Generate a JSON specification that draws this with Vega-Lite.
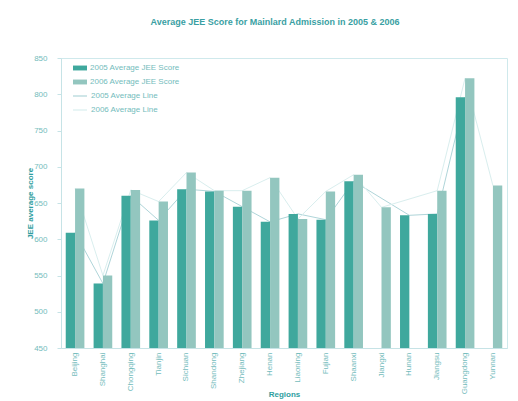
{
  "$schema": "https://vega.github.io/schema/vega-lite/v6.json",
  "width": 446,
  "height": 290,
  "autosize": {"type": "none"},
  "padding": {"left": 61, "top": 58, "right": 11, "bottom": 53},
  "background": "#ffffff",
  "title": {
    "text": "Average JEE Score for Mainlard Admission in 2005 & 2006",
    "fontSize": 9,
    "fontWeight": "bold",
    "color": "#3a9fa3",
    "font": "Liberation Sans",
    "anchor": "middle",
    "dx": -9,
    "offset": 27
  },
  "config": {
    "view": {"stroke": "#cfe9ec", "strokeWidth": 1},
    "font": "Liberation Sans",
    "axis": {
      "labelColor": "#74bcbc",
      "labelFontSize": 8,
      "titleColor": "#2f9ea0",
      "titleFontSize": 8,
      "titleFontWeight": "bold",
      "domainColor": "#c6e3e6",
      "tickColor": "#c6e3e6",
      "grid": false
    },
    "legend": {
      "labelColor": "#74bcbc",
      "labelFontSize": 8,
      "labelFont": "Liberation Sans",
      "padding": 0
    }
  },
  "datasets": {
    "bars": [
      {"region": "Beijing", "series": "2005 Average JEE Score", "score": 609},
      {"region": "Beijing", "series": "2006 Average JEE Score", "score": 670},
      {"region": "Shanghai", "series": "2005 Average JEE Score", "score": 539},
      {"region": "Shanghai", "series": "2006 Average JEE Score", "score": 550},
      {"region": "Chongqing", "series": "2005 Average JEE Score", "score": 660},
      {"region": "Chongqing", "series": "2006 Average JEE Score", "score": 668},
      {"region": "Tianjin", "series": "2005 Average JEE Score", "score": 626},
      {"region": "Tianjin", "series": "2006 Average JEE Score", "score": 652},
      {"region": "Sichuan", "series": "2005 Average JEE Score", "score": 669},
      {"region": "Sichuan", "series": "2006 Average JEE Score", "score": 692},
      {"region": "Shandong", "series": "2005 Average JEE Score", "score": 666},
      {"region": "Shandong", "series": "2006 Average JEE Score", "score": 667},
      {"region": "Zhejiang", "series": "2005 Average JEE Score", "score": 645},
      {"region": "Zhejiang", "series": "2006 Average JEE Score", "score": 667},
      {"region": "Henan", "series": "2005 Average JEE Score", "score": 624},
      {"region": "Henan", "series": "2006 Average JEE Score", "score": 685},
      {"region": "Liaoning", "series": "2005 Average JEE Score", "score": 635},
      {"region": "Liaoning", "series": "2006 Average JEE Score", "score": 628},
      {"region": "Fujian", "series": "2005 Average JEE Score", "score": 627},
      {"region": "Fujian", "series": "2006 Average JEE Score", "score": 666},
      {"region": "Shaanxi", "series": "2005 Average JEE Score", "score": 680},
      {"region": "Shaanxi", "series": "2006 Average JEE Score", "score": 689},
      {"region": "Jiangxi", "series": "2006 Average JEE Score", "score": 644},
      {"region": "Hunan", "series": "2005 Average JEE Score", "score": 633},
      {"region": "Jiangsu", "series": "2005 Average JEE Score", "score": 635},
      {"region": "Jiangsu", "series": "2006 Average JEE Score", "score": 667},
      {"region": "Guangdong", "series": "2005 Average JEE Score", "score": 796},
      {"region": "Guangdong", "series": "2006 Average JEE Score", "score": 822},
      {"region": "Yunnan", "series": "2006 Average JEE Score", "score": 674}
    ],
    "lines": [
      {"region": "Beijing", "series": "2005 Average Line", "score": 609},
      {"region": "Shanghai", "series": "2005 Average Line", "score": 539},
      {"region": "Chongqing", "series": "2005 Average Line", "score": 660},
      {"region": "Tianjin", "series": "2005 Average Line", "score": 626},
      {"region": "Sichuan", "series": "2005 Average Line", "score": 669},
      {"region": "Shandong", "series": "2005 Average Line", "score": 666},
      {"region": "Zhejiang", "series": "2005 Average Line", "score": 645},
      {"region": "Henan", "series": "2005 Average Line", "score": 624},
      {"region": "Liaoning", "series": "2005 Average Line", "score": 635},
      {"region": "Fujian", "series": "2005 Average Line", "score": 627},
      {"region": "Shaanxi", "series": "2005 Average Line", "score": 680},
      {"region": "Hunan", "series": "2005 Average Line", "score": 633},
      {"region": "Jiangsu", "series": "2005 Average Line", "score": 635},
      {"region": "Guangdong", "series": "2005 Average Line", "score": 796},
      {"region": "Beijing", "series": "2006 Average Line", "score": 670},
      {"region": "Shanghai", "series": "2006 Average Line", "score": 550},
      {"region": "Chongqing", "series": "2006 Average Line", "score": 668},
      {"region": "Tianjin", "series": "2006 Average Line", "score": 652},
      {"region": "Sichuan", "series": "2006 Average Line", "score": 692},
      {"region": "Shandong", "series": "2006 Average Line", "score": 667},
      {"region": "Zhejiang", "series": "2006 Average Line", "score": 667},
      {"region": "Henan", "series": "2006 Average Line", "score": 685},
      {"region": "Liaoning", "series": "2006 Average Line", "score": 628},
      {"region": "Fujian", "series": "2006 Average Line", "score": 666},
      {"region": "Shaanxi", "series": "2006 Average Line", "score": 689},
      {"region": "Jiangxi", "series": "2006 Average Line", "score": 644},
      {"region": "Jiangsu", "series": "2006 Average Line", "score": 667},
      {"region": "Guangdong", "series": "2006 Average Line", "score": 822},
      {"region": "Yunnan", "series": "2006 Average Line", "score": 674}
    ]
  },
  "encoding": {
    "x": {
      "field": "region",
      "type": "nominal",
      "sort": ["Beijing", "Shanghai", "Chongqing", "Tianjin", "Sichuan", "Shandong", "Zhejiang", "Henan", "Liaoning", "Fujian", "Shaanxi", "Jiangxi", "Hunan", "Jiangsu", "Guangdong", "Yunnan"],
      "scale": {"paddingInner": 0.33, "paddingOuter": 0.17},
      "axis": {
        "title": "Regions",
        "labelAngle": -90,
        "labelPadding": 4,
        "ticks": false,
        "titleY": 42
      }
    },
    "y": {
      "field": "score",
      "type": "quantitative",
      "scale": {"domain": [450, 850], "zero": false, "nice": false},
      "axis": {
        "title": "JEE average score",
        "values": [450, 500, 550, 600, 650, 700, 750, 800, 850],
        "tickSize": 4,
        "labelPadding": 10,
        "titleX": -27
      }
    }
  },
  "layer": [
    {
      "data": {"name": "lines"},
      "mark": {"type": "line", "strokeWidth": 1},
      "encoding": {
        "stroke": {
          "field": "series",
          "type": "nominal",
          "scale": {"domain": ["2005 Average Line", "2006 Average Line"], "range": ["#afd5d9", "#d9eeee"]},
          "legend": {
            "title": null,
            "orient": "none",
            "legendX": 11,
            "legendY": 30,
            "symbolType": "stroke",
            "symbolSize": 196,
            "symbolStrokeWidth": 1.2,
            "rowPadding": 2,
            "labelOffset": 3
          }
        }
      }
    },
    {
      "data": {"name": "bars"},
      "mark": {"type": "bar"},
      "encoding": {
        "y2": {"datum": 450},
        "xOffset": {"field": "series", "type": "nominal", "scale": {"domain": ["2005 Average JEE Score", "2006 Average JEE Score"], "paddingInner": 0, "paddingOuter": 0}},
        "color": {
          "field": "series",
          "type": "nominal",
          "scale": {"domain": ["2005 Average JEE Score", "2006 Average JEE Score"], "range": ["#3fa89d", "#93c6bf"]},
          "legend": {
            "title": null,
            "orient": "none",
            "legendX": 12,
            "legendY": 3,
            "symbolType": "M-1,-0.35H1V0.35H-1Z",
            "symbolSize": 196,
            "symbolStrokeWidth": 0,
            "rowPadding": 3,
            "labelOffset": 3
          }
        }
      }
    }
  ]
}
